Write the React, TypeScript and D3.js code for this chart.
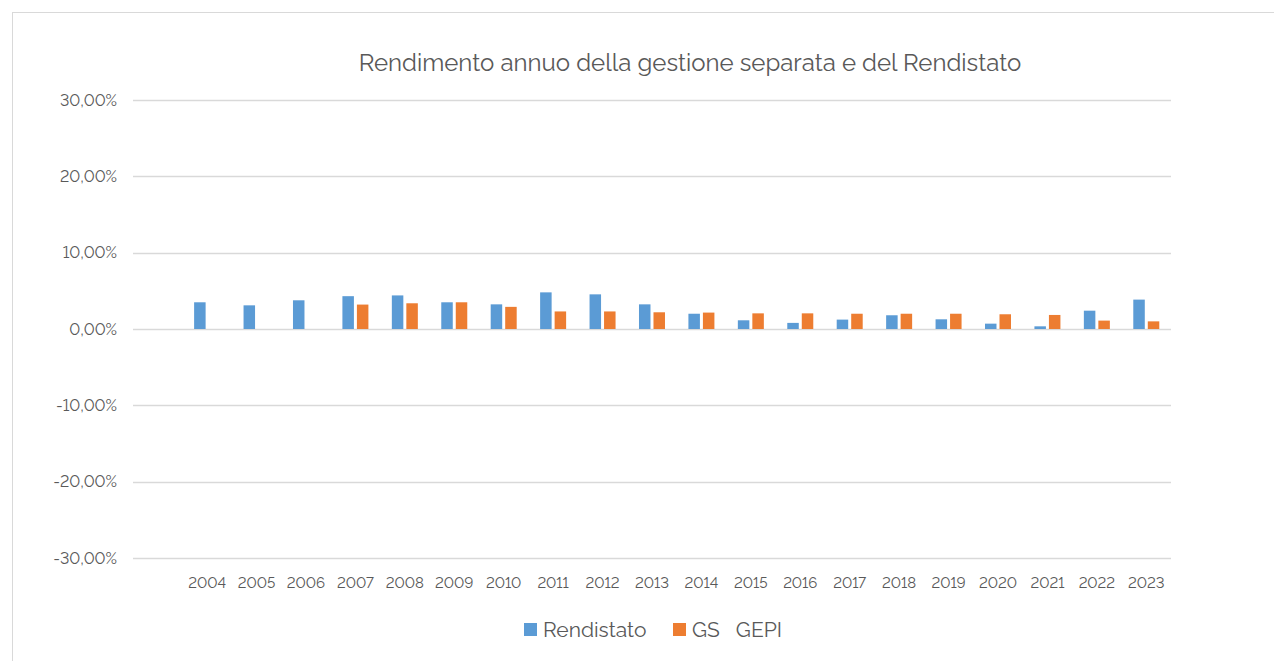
import { useEffect, useRef } from "react";
import * as d3 from "d3";

const years = [
  "2004", "2005", "2006", "2007", "2008", "2009", "2010", "2011", "2012", "2013",
  "2014", "2015", "2016", "2017", "2018", "2019", "2020", "2021", "2022", "2023",
];

// values in %
const rendistato = [
  3.5, 3.1, 3.76, 4.3, 4.4, 3.5, 3.23, 4.8, 4.54, 3.23,
  2.0, 1.14, 0.8, 1.23, 1.8, 1.27, 0.7, 0.35, 2.4, 3.85,
];
const gsGepi: (number | null)[] = [
  null, null, null, 3.2, 3.37, 3.5, 2.9, 2.3, 2.3, 2.19,
  2.15, 2.05, 2.05, 2.0, 2.0, 2.0, 1.93, 1.84, 1.1, 1.0,
];

const yTicks = [30, 20, 10, 0, -10, -20, -30];
const seriesNames = ["Rendistato", "GS   GEPI"];

const COLORS = {
  blue: "#5b9bd5",
  orange: "#ed7d31",
  grid: "#d9d9d9",
  text: "#595959",
};

const FONT = "Raleway, Lato, 'Open Sans', sans-serif";
const W = 1274;
const H = 661;

export default function App() {
  const svgRef = useRef<SVGSVGElement>(null);

  useEffect(() => {
    if (!svgRef.current) return;
    const svg = d3.select(svgRef.current);
    svg.selectAll("*").remove();

    // outer frame
    svg.append("rect")
      .attr("x", 12.5).attr("y", 12.5)
      .attr("width", 1300).attr("height", 700)
      .attr("fill", "#fff")
      .attr("stroke", COLORS.grid);

    const gridLeft = 133;
    const gridRight = 1171;

    const y = d3.scaleLinear().domain([-30, 30]).range([558, 100]);
    // first slot of the category axis is empty in the original
    const x = d3.scaleBand<string>().domain(years).range([gridLeft + 49.4, gridRight]);
    const bw = 11.5;
    const gap = 3;

    // gridlines
    svg.append("g").selectAll("line")
      .data(yTicks)
      .join("line")
      .attr("x1", gridLeft).attr("x2", gridRight)
      .attr("y1", (d) => Math.round(y(d)) + 0.5)
      .attr("y2", (d) => Math.round(y(d)) + 0.5)
      .attr("stroke", COLORS.grid)
      .attr("stroke-width", 1.3);

    // y labels
    svg.append("g").selectAll("text")
      .data(yTicks)
      .join("text")
      .attr("x", 117)
      .attr("y", (d) => y(d))
      .attr("dy", "0.35em")
      .attr("text-anchor", "end")
      .attr("font-family", FONT)
      .attr("font-size", 16)
      .attr("fill", COLORS.text)
      .style("font-variant-numeric", "lining-nums")
      .text((d) => d.toFixed(2).replace(".", ",") + "%");

    // x labels
    svg.append("g").selectAll("text")
      .data(years)
      .join("text")
      .attr("x", (d) => (x(d) ?? 0) + x.bandwidth() / 2)
      .attr("y", 583)
      .attr("dy", "0.35em")
      .attr("text-anchor", "middle")
      .attr("font-family", FONT)
      .attr("font-size", 15)
      .attr("fill", COLORS.text)
      .style("font-variant-numeric", "lining-nums")
      .text((d) => d);

    // bars
    const bars = svg.append("g");
    years.forEach((yr, i) => {
      const cx = (x(yr) ?? 0) + x.bandwidth() / 2;
      const r = rendistato[i];
      bars.append("rect")
        .attr("x", cx - gap / 2 - bw)
        .attr("y", y(Math.max(0, r)))
        .attr("width", bw)
        .attr("height", Math.abs(y(r) - y(0)))
        .attr("fill", COLORS.blue);
      const g = gsGepi[i];
      if (g != null) {
        bars.append("rect")
          .attr("x", cx + gap / 2)
          .attr("y", y(Math.max(0, g)))
          .attr("width", bw)
          .attr("height", Math.abs(y(g) - y(0)))
          .attr("fill", COLORS.orange);
      }
    });

    // title
    svg.append("text")
      .attr("x", 690)
      .attr("y", 63)
      .attr("dy", "0.35em")
      .attr("text-anchor", "middle")
      .attr("font-family", FONT)
      .attr("font-size", 24)
      .attr("fill", COLORS.text)
      .text("Rendimento annuo della gestione separata e del Rendistato");

    // legend
    const legend = svg.append("g");
    const items = [
      { name: seriesNames[0], color: COLORS.blue, x: 524 },
      { name: seriesNames[1], color: COLORS.orange, x: 673 },
    ];
    items.forEach((it) => {
      legend.append("rect")
        .attr("x", it.x).attr("y", 623)
        .attr("width", 13).attr("height", 13)
        .attr("fill", it.color);
      legend.append("text")
        .attr("x", it.x + 19)
        .attr("y", 630)
        .attr("dy", "0.35em")
        .attr("font-family", FONT)
        .attr("font-size", 21)
        .attr("fill", COLORS.text)
        .style("white-space", "pre")
        .text(it.name);
    });
  }, []);

  return (
    <svg
      ref={svgRef}
      width={W}
      height={H}
      style={{ position: "absolute", left: 0, top: 0, background: "#fff" }}
    />
  );
}
